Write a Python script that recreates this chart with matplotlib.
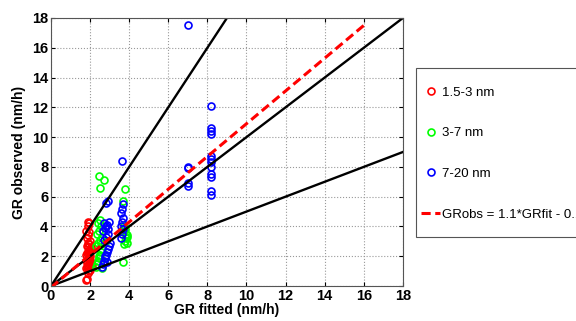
import numpy as np
import matplotlib.pyplot as plt
from matplotlib.patches import Rectangle

plt.rcParams['font.family'] = ['Liberation Sans', 'DejaVu Sans']

# 1.5-3 nm
red_x = [1.8, 1.85, 1.9, 1.95, 2.0, 1.8, 1.85, 1.9, 1.95, 2.0, 1.85, 1.9, 1.95, 2.0, 1.8,
         1.85, 1.9, 1.95, 2.0, 1.9, 1.85, 1.95, 1.9, 2.0, 1.85, 1.9, 1.95, 1.8, 1.9, 1.95,
         2.0, 1.85, 1.9, 1.95, 2.05, 2.1, 1.9]
red_y = [0.4, 0.5, 0.9, 1.0, 1.1, 1.2, 1.3, 1.4, 1.5, 1.6, 1.7, 1.8, 1.9, 2.0, 2.1,
         2.2, 2.3, 2.4, 2.5, 2.6, 2.7, 2.8, 2.9, 3.0, 3.2, 3.4, 3.6, 3.7, 4.0, 4.2,
         1.75, 1.55, 1.25, 2.15, 2.6, 1.4, 4.3]
# 3-7 nm
green_x = [2.3, 2.35, 2.4, 2.45, 2.5, 2.55, 2.6, 2.3, 2.4, 2.5, 2.6, 2.35, 2.45, 2.55,
           2.4, 2.5, 2.6, 2.7, 2.45, 2.55, 2.8, 2.5, 2.7, 2.45,
           3.7, 3.75, 3.8, 3.85, 3.9, 3.7, 3.8, 3.9, 3.75, 3.85, 3.9, 3.7, 3.8]
green_y = [1.3, 1.5, 1.7, 1.9, 2.1, 2.3, 2.5, 2.7, 2.9, 3.1, 3.3, 3.5, 3.7, 4.0,
           4.2, 4.4, 1.2, 1.6, 2.0, 2.8, 3.0, 6.6, 7.1, 7.4,
           1.6, 2.8, 3.0, 3.2, 3.4, 3.6, 3.8, 2.9, 4.0, 3.5, 3.3, 5.7, 6.5]
# 7-20 nm
blue_x = [2.6, 2.65, 2.7, 2.75, 2.8, 2.85, 2.9, 2.95, 3.0, 2.7, 2.8, 2.9, 2.65, 2.75,
          2.85, 2.95, 2.7, 2.8, 2.9, 2.75, 2.85, 2.8, 2.9,
          3.6, 3.65, 3.7, 3.6, 3.65, 3.7, 3.6, 3.65, 3.7, 3.65,
          7.0, 7.0, 7.0, 7.0, 7.0,
          8.2, 8.2, 8.2, 8.2, 8.2, 8.2, 8.2, 8.2, 8.2, 8.2, 8.2, 8.2]
blue_y = [1.3, 1.5, 1.7, 1.9, 2.1, 2.3, 2.5, 2.7, 2.9, 3.1, 3.3, 3.5, 3.7, 3.9,
          4.1, 4.3, 4.2, 4.0, 3.8, 2.0, 1.6, 5.6, 5.7,
          3.2, 3.5, 3.8, 4.0, 4.3, 4.6, 4.9, 5.2, 5.5, 8.4,
          6.7, 6.9, 7.9, 8.0, 17.5,
          6.1, 6.4, 7.3, 7.5, 8.0, 8.3, 8.5, 8.7, 10.2, 10.4, 10.6, 12.1]

fit_x = np.array([0, 16])
ref_x = np.array([0, 18])

fig = plt.figure(figsize=(5.76, 3.21), dpi=100)
ax = fig.add_axes([0.0885, 0.109, 0.611, 0.835])

mk = dict(linestyle='none', marker='o', markersize=5, markerfacecolor='none', markeredgewidth=1.2)
ax.plot(red_x, red_y, color='#ff0000', label='1.5-3 nm', **mk)
ax.plot(green_x, green_y, color='#00ff00', label='3-7 nm', **mk)
ax.plot(blue_x, blue_y, color='#0000ff', label='7-20 nm', **mk)

for s in [2, 1, 0.5]:
    ax.plot(ref_x, s * ref_x, color='k', linewidth=1.7)
ax.plot(fit_x, 1.1 * fit_x - 0.1, 'r--', linewidth=2.2, dashes=(3, 1.5),
        label='GRobs = 1.1*GRfit - 0.1')

ax.set_xlim([0, 18])
ax.set_ylim([0, 18])
ax.set_xticks(range(0, 19, 2))
ax.set_yticks(range(0, 19, 2))
ax.grid(True, linestyle=':', color='#999999', linewidth=0.8)
ax.tick_params(direction='in', top=True, right=True, length=3, labelsize=10.5, pad=2)
for lab in ax.get_xticklabels() + ax.get_yticklabels():
    lab.set_fontweight('bold')
for sp in ax.spines.values():
    sp.set_color('#555555')
ax.set_xlabel('GR fitted (nm/h)', fontweight='bold', fontsize=10, labelpad=0)
ax.set_ylabel('GR observed (nm/h)', fontweight='bold', fontsize=10, labelpad=4)

# legend box (runs off the right edge like the original)
fig.patches.append(Rectangle((416 / 576, 1 - 237 / 321), 170 / 576, 169 / 321,
                             transform=fig.transFigure, facecolor='w',
                             edgecolor='#555555', linewidth=0.8, zorder=0))
leg = fig.legend(loc='upper left', bbox_to_anchor=(418 / 576, 1 - 84 / 321),
                 fontsize=9.5, labelspacing=2.15, handlelength=1.5, handletextpad=0.15,
                 borderpad=0.2, borderaxespad=0, frameon=False)

plt.savefig('out.png', dpi=100, facecolor='w', edgecolor='w')
